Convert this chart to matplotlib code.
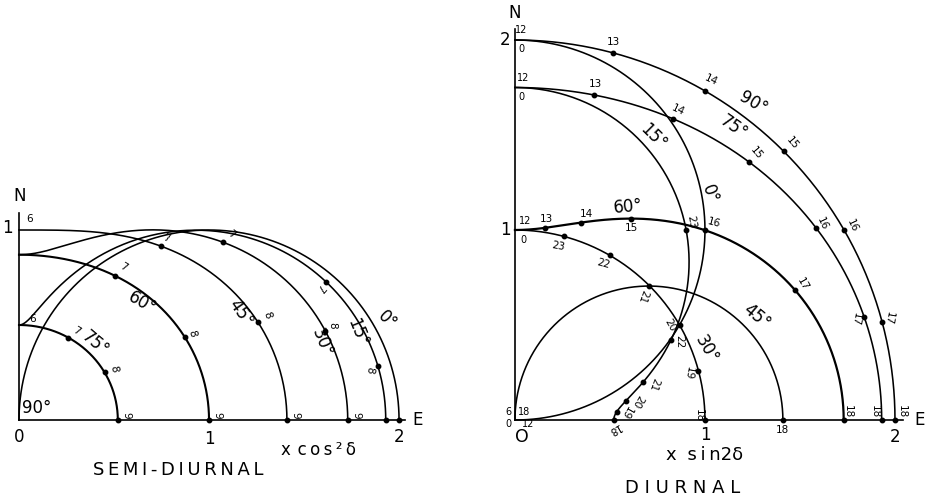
import numpy as np
import matplotlib
matplotlib.use("Agg")
import matplotlib.pyplot as plt

INK = "black"
THIN = "\u2009"

# semi-diurnal curves: latitude, intercept on E axis, intercept on N axis
semi_lat = [75, 60, 45, 30, 15, 0]
semi_e = [0.52, 1.00, 1.41, 1.73, 1.93, 2.00]
semi_n = [0.50, 0.87, 1.00, 0.87, 0.50, 0.00]
semi_hours = {75: [7, 8, 9], 60: [7, 8, 9], 45: [7, 8, 9], 30: [7, 8, 9],
              15: [7, 8, 9], 0: [9]}

# diurnal curves
diur_lat = [90, 75, 60, 45, 30, 15, 0]
diur_e = [2.00, 1.93, 1.73, 1.41, 1.00, 0.52, 0.00]
diur_n = [2.00, 1.75, 1.00, 0.00, 1.00, 1.75, 2.00]
diur_hours = {90: [13, 14, 15, 16, 17, 18], 75: [13, 14, 15, 16, 17, 18],
              60: [13, 14, 15, 16, 17, 18], 45: [18],
              30: [23, 22, 21, 20, 19, 18], 15: [23, 22, 21, 20, 19, 18], 0: []}

# hour label placement: (lat, hour) -> dx, dy, rotation
semi_lbl = {
    (75, 7): (0.04, 0.035, -30), (75, 8): (0.05, 0.02, -80), (75, 9): (0.045, 0.025, -90),
    (60, 7): (0.045, 0.045, -30), (60, 8): (0.04, 0.02, -75), (60, 9): (0.045, 0.025, -90),
    (45, 7): (0.03, 0.04, -20), (45, 8): (0.05, 0.035, -70), (45, 9): (0.045, 0.025, -90),
    (30, 7): (0.045, 0.04, -35), (30, 8): (0.035, 0.03, -90), (30, 9): (0.045, 0.025, -90),
    (15, 7): (-0.03, -0.03, -130), (15, 8): (-0.045, -0.02, -100),
}
diur_lbl = {
    (90, 13): (0.0, 0.06, 0), (90, 14): (0.03, 0.055, -25), (90, 15): (0.045, 0.045, -50),
    (90, 16): (0.045, 0.02, -65), (90, 17): (0.035, 0.02, -100), (90, 18): (0.035, 0.045, -90),
    (75, 13): (0.01, 0.06, 0), (75, 14): (0.03, 0.045, -25), (75, 15): (0.04, 0.045, -50),
    (75, 16): (0.03, 0.025, -65), (75, 17): (-0.045, -0.01, -100), (75, 18): (-0.035, 0.045, -90),
    (60, 13): (0.01, 0.045, 0), (60, 14): (0.03, 0.045, 0), (60, 15): (0.0, -0.05, 0),
    (60, 16): (0.045, 0.04, -15), (60, 17): (0.04, 0.03, -60), (60, 18): (0.02, 0.045, -90),
    (45, 18): (0.0, -0.05, 0),
    (30, 23): (-0.03, -0.05, -10), (30, 22): (-0.035, -0.045, -15), (30, 21): (-0.035, -0.055, -110),
    (30, 20): (-0.05, 0.0, -60), (30, 19): (-0.05, -0.01, -100), (30, 18): (-0.03, 0.025, -90),
    (15, 23): (0.025, 0.045, -80), (15, 22): (0.045, -0.01, -90), (15, 21): (0.055, -0.01, -110),
    (15, 20): (0.06, 0.0, -120), (15, 19): (0.05, 0.0, -120), (15, 18): (0.0, -0.045, -150),
}

# latitude labels: lat -> x, y, rotation
semi_deg = {90: (0.095, 0.063, 0), 75: (0.40, 0.40, -40), 60: (0.647, 0.616, -30),
            45: (1.168, 0.563, -55), 30: (1.595, 0.405, -68), 15: (1.78, 0.458, -68),
            0: (1.937, 0.526, -45)}
diur_deg = {90: (1.253, 1.67, -30), 75: (1.149, 1.54, -35), 60: (0.596, 1.125, 5),
            45: (1.27, 0.546, -40), 30: (1.01, 0.372, -60), 15: (0.728, 1.49, -45),
            0: (1.026, 1.19, -70)}

DIUR_X0 = 2.61   # horizontal offset of the diurnal diagram


def pedal(a, b, psi):
    return np.sqrt((a * np.cos(psi)) ** 2 + (b * np.sin(psi)) ** 2)


def draw_curve(ax, x0, a, b, lw):
    psi = np.linspace(0, np.pi / 2, 300)
    r = pedal(a, b, psi)
    ax.plot(x0 + r * np.cos(psi), r * np.sin(psi), color=INK, lw=lw)


def semi_point(a, b, hour):
    alpha = np.radians(30 * (hour - 6))
    psi = np.arctan2(round(b * np.cos(alpha), 9), round(a * np.sin(alpha), 9))
    r = pedal(a, b, psi)
    return r * np.cos(psi), r * np.sin(psi)


def diur_point(a, b, hour):
    h = hour - 12 if hour <= 18 else 24 - hour
    ang = np.radians(15 * h)
    psi = np.arctan2(round(a * np.cos(ang), 9), round(b * np.sin(ang), 9))
    r = pedal(a, b, psi)
    return r * np.cos(psi), r * np.sin(psi)


def txt(ax, x, y, s, size, rot=0):
    ax.text(x, y, s, fontsize=size, rotation=rot, ha="center", va="center",
            color=INK, rotation_mode="anchor")


def spaced(s):
    return THIN.join(s)


fig = plt.figure(figsize=(9.29, 5.0), dpi=100)
ax = fig.add_axes([0, 0, 1, 1])
ax.set_xlim(-0.1, 4.789)
ax.set_ylim(-0.421, 2.2105)
ax.axis("off")

# ---- semi-diurnal ----
ax.plot([0, 0], [0, 1.09], color=INK, lw=1.2)
ax.plot([0, 2.03], [0, 0], color=INK, lw=1.2)
for lat, a, b in zip(semi_lat, semi_e, semi_n):
    draw_curve(ax, 0, a, b, 1.5 if lat in (75, 60) else 1.15)
    for h in semi_hours[lat]:
        x, y = semi_point(a, b, h)
        ax.plot(x, y, "o", color=INK, ms=3.2)
        if (lat, h) in semi_lbl:
            dx, dy, rot = semi_lbl[(lat, h)]
            txt(ax, x + dx, y + dy, str(h), 7.5, rot)
for lat, (x, y, rot) in semi_deg.items():
    txt(ax, x, y, f"{lat}°", 12, rot)
txt(ax, 0.07, 0.53, "6", 7.5)
txt(ax, 0.055, 1.06, "6", 7.5)

txt(ax, 0.0, -0.09, "0", 12)
txt(ax, 1.0, -0.10, "1", 12)
txt(ax, 2.0, -0.09, "2", 12)
txt(ax, -0.063, 1.01, "1", 12)
txt(ax, 0.005, 1.18, "N", 12)
txt(ax, 2.095, 0.0, "E", 12)
txt(ax, 0.837, -0.263, spaced("SEMI-DIURNAL"), 13)
txt(ax, 1.574, -0.158, "x" + THIN * 2 + spaced("cos²") + THIN + "δ", 12)

# ---- diurnal ----
x0 = DIUR_X0
ax.plot([x0, x0], [0, 2.06], color=INK, lw=1.2)
ax.plot([x0, x0 + 2.04], [0, 0], color=INK, lw=1.2)
for lat, a, b in zip(diur_lat, diur_e, diur_n):
    draw_curve(ax, x0, a, b, 1.6 if lat == 60 else 1.15)
    for h in diur_hours[lat]:
        x, y = diur_point(a, b, h)
        ax.plot(x0 + x, y, "o", color=INK, ms=3.2)
        if (lat, h) in diur_lbl:
            dx, dy, rot = diur_lbl[(lat, h)]
            txt(ax, x0 + x + dx, y + dy, str(h), 7.5, rot)
for lat, (x, y, rot) in diur_deg.items():
    txt(ax, x0 + x, y, f"{lat}°", 12, rot)

for s, x, y in [("12", 0.035, 2.05), ("0", 0.035, 1.955), ("12", 0.044, 1.80),
                ("0", 0.035, 1.70), ("12", 0.053, 1.045), ("0", 0.044, 0.95),
                ("6", -0.035, 0.044), ("18", 0.05, 0.044), ("0", -0.035, -0.02),
                ("12", 0.07, -0.02)]:
    txt(ax, x0 + x, y, s, 7)

txt(ax, x0 + 0.035, -0.088, "O", 12.5)
txt(ax, x0 + 1.0, -0.08, "1", 12)
txt(ax, x0 + 2.0, -0.09, "2", 12)
txt(ax, x0 - 0.05, 1.0, "1", 12)
txt(ax, x0 - 0.05, 2.0, "2", 12)
txt(ax, x0, 2.14, "N", 12)
txt(ax, x0 + 2.13, 0.0, "E", 12)
txt(ax, 3.61, -0.184, "x" + THIN * 3 + spaced("sin") + "2δ", 13)
txt(ax, 3.49, -0.358, "D I U R N A L", 13)

fig.savefig("out.png", dpi=100, facecolor="white")
